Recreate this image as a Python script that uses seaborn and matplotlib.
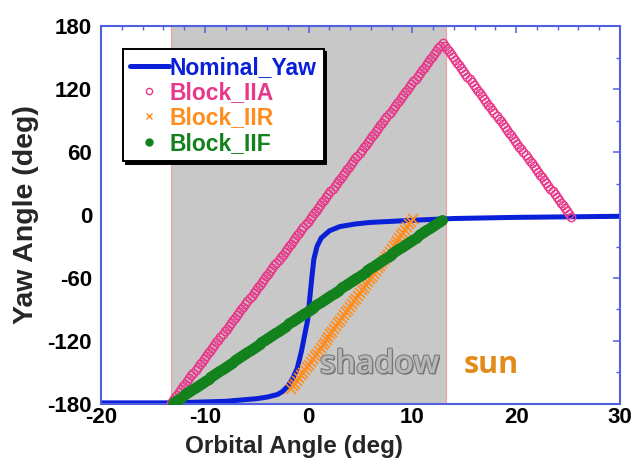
import numpy as np
import pandas as pd
import matplotlib
matplotlib.use("Agg")
import matplotlib.pyplot as plt
import seaborn as sns
from matplotlib.lines import Line2D
import matplotlib.patheffects as pe

# ---- data ----
# Nominal yaw curve (orbital angle, yaw)
nom_x = [-20, -13, -8, -5, -4, -3, -2.5, -2, -1.5, -1.1, -0.7, -0.4, -0.1, 0.1,
         0.3, 0.5, 0.8, 1.2, 2, 3, 4.5, 6, 10, 14, 20, 30]
nom_y = [-179, -179, -177.5, -175, -173.5, -171, -168, -163, -155, -146, -130,
         -115, -100, -80, -60, -42, -30, -22, -15, -11, -8.5, -7, -5, -3.3, -2.2, -1.2]

# Block IIA: ramp up through the shadow, then back down after exit
iia_knot_x = [-13.3, 12.9, 25.3]
iia_knot_y = [-179, 164, -1.5]
iia_step = 0.2

# Block IIR: late start, constant rate
iir_knot_x = [-1.7, 10.2]
iir_knot_y = [-166, -2]
iir_step = 0.19

# Block IIF: constant rate across the whole shadow
iif_knot_x = [-13.1, 12.9]
iif_knot_y = [-179, -4]
iif_step = 0.15

shadow_start, shadow_end = -13.3, 13.2

x_ticks = [-20, -10, 0, 10, 20, 30]
y_ticks = [-180, -120, -60, 0, 60, 120, 180]


def sampled(kx, ky, step):
    xs = np.arange(kx[0], kx[-1] + 1e-9, step)
    return pd.DataFrame({"x": xs, "y": np.interp(xs, kx, ky)})


df_nom = pd.DataFrame({"x": nom_x, "y": nom_y})
df_iia = sampled(iia_knot_x, iia_knot_y, iia_step)
df_iir = sampled(iir_knot_x, iir_knot_y, iir_step)
df_iif = sampled(iif_knot_x, iif_knot_y, iif_step)

# ---- colours ----
c_nom = "#0a1fd8"
c_iia = "#e8388a"
c_iir = "#ff8c1e"
c_iif = "#13821c"
c_axis = "#5060e0"

sns.set_style("white")
plt.rcParams["font.family"] = ["Liberation Sans", "DejaVu Sans"]
plt.rcParams["font.weight"] = "bold"
plt.rcParams["axes.unicode_minus"] = False

fig = plt.figure(figsize=(6.32, 4.59), dpi=100)
ax = fig.add_axes([0.160, 0.120, 0.821, 0.823])

ax.axvspan(shadow_start, shadow_end, color="#c8c8c8", zorder=0, lw=0)
ax.axvline(shadow_start, color="#f0a0a0", lw=0.8, zorder=0.5)
ax.axvline(shadow_end, color="#f0a0a0", lw=0.8, zorder=0.5)

sns.lineplot(data=df_nom, x="x", y="y", ax=ax, color=c_nom, lw=3.6,
             estimator=None, sort=False, zorder=2)
sns.lineplot(data=df_iia, x="x", y="y", ax=ax, estimator=None, sort=False,
             linestyle="none", marker="o", markersize=6, markerfacecolor="none",
             markeredgecolor=c_iia, markeredgewidth=1.0, zorder=3)
sns.lineplot(data=df_iir, x="x", y="y", ax=ax, estimator=None, sort=False,
             linestyle="none", marker="x", markersize=6.5, markeredgecolor=c_iir,
             markeredgewidth=1.2, zorder=4)
sns.lineplot(data=df_iif, x="x", y="y", ax=ax, estimator=None, sort=False,
             linestyle="none", marker="o", markersize=7.3, markerfacecolor=c_iif,
             markeredgecolor=c_iif, markeredgewidth=0.5, zorder=5)

ax.set_xlim(-20, 30)
ax.set_ylim(-180, 180)
ax.set_xticks(x_ticks)
ax.set_yticks(y_ticks)
ax.set_xticks(np.arange(-20, 31, 2), minor=True)
ax.set_yticks(np.arange(-180, 181, 30), minor=True)
ax.tick_params(which="both", direction="in", top=True, right=True,
               color=c_axis, labelcolor="black", labelsize=16)
ax.tick_params(which="major", length=5, width=1.1)
ax.tick_params(which="minor", length=3, width=1.0)
ax.tick_params(axis="y", pad=6.5)
ax.tick_params(axis="x", pad=2.5)
for lab in ax.get_xticklabels() + ax.get_yticklabels():
    lab.set_fontweight("bold")
for s in ax.spines.values():
    s.set_color(c_axis)
    s.set_linewidth(1.5)

ax.set_xlabel("")
ax.set_ylabel("Yaw Angle (deg)", fontsize=20.5, fontweight="bold", labelpad=6)
fig.text(294 / 632, 1 - 453 / 459, "Orbital Angle (deg)", ha="center", va="baseline",
         fontsize=17.5, fontweight="bold")

# annotations
ax.text(1.1, -150.5, "shadow", fontsize=23, fontweight="semibold", color="#b8b8b8",
        family=["Open Sans", "DejaVu Sans"], va="baseline", zorder=6,
        path_effects=[pe.SimplePatchShadow(offset=(1, -1), shadow_rgbFace="#505050", alpha=0.8),
                      pe.Stroke(linewidth=1.6, foreground="#7a7a7a"), pe.Normal()])
ax.text(14.9, -150.5, "sun", fontsize=22, fontweight="bold", color="#e38b1a",
        family=["Open Sans", "DejaVu Sans"], va="baseline", zorder=6)

handles = [
    Line2D([], [], color=c_nom, lw=3.6),
    Line2D([], [], ls="none", marker="o", ms=4.5, mfc="none", mec=c_iia, mew=1.0),
    Line2D([], [], ls="none", marker="x", ms=5, mec=c_iir, mew=1.0),
    Line2D([], [], ls="none", marker="o", ms=5, mfc=c_iif, mec=c_iif),
]
labels = ["Nominal_Yaw", "Block_IIA", "Block_IIR", "Block_IIF"]
leg = ax.legend(handles, labels, loc="upper left", bbox_to_anchor=(0.042, 0.94),
                borderaxespad=0, frameon=True, fancybox=False,
                shadow={"color": "black", "alpha": 1.0}, handlelength=1.7,
                handletextpad=0.05, labelspacing=0.1, borderpad=0.3,
                labelcolor=[c_nom, c_iia, c_iir, c_iif],
                prop={"weight": "bold", "size": 16.5})
leg.get_frame().set_edgecolor("black")
leg.get_frame().set_linewidth(1.4)
leg.get_frame().set_alpha(1)
leg.set_zorder(10)

fig.savefig("out.png", dpi=100)
